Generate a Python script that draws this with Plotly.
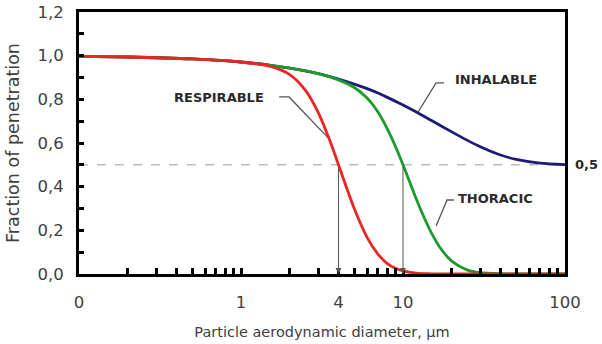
import numpy as np
import plotly.graph_objects as go

# Particle aerodynamic diameter (µm) and fraction of penetration
d_inh = [0.1, 0.2, 0.5, 1, 1.5, 2, 3, 4, 5, 6, 7, 8, 10, 12, 15, 20, 25, 30, 40, 50, 70, 100]
inhalable = [0.997, 0.994, 0.985, 0.971, 0.957, 0.943, 0.918, 0.893, 0.870, 0.849, 0.829,
             0.809, 0.774, 0.743, 0.703, 0.651, 0.612, 0.583, 0.545, 0.525, 0.508, 0.501]

d_tho = [0.1, 0.2, 0.5, 1, 2, 3, 4, 5, 6, 7, 8, 9, 10, 11, 12, 13, 15, 17, 20, 25, 30, 40, 50, 100]
thoracic = [0.997, 0.994, 0.985, 0.971, 0.943, 0.918, 0.889, 0.854, 0.806, 0.742, 0.665, 0.583,
            0.500, 0.421, 0.349, 0.286, 0.187, 0.119, 0.059, 0.018, 0.006, 0.001, 0.0, 0.0]

d_res = [0.1, 0.2, 0.5, 1, 1.5, 2, 2.5, 3, 3.5, 4, 4.5, 5, 6, 7, 8, 9, 10, 12, 15, 20, 50, 100]
respirable = [0.997, 0.994, 0.985, 0.971, 0.952, 0.913, 0.841, 0.739, 0.619, 0.500, 0.392,
              0.300, 0.168, 0.091, 0.048, 0.026, 0.014, 0.004, 0.001, 0.0, 0.0, 0.0]

threshold = 0.5
cut_sizes = [4, 10]  # respirable / thoracic 50 % cut points

x_tickvals = [0.1, 0.2, 0.3, 0.4, 0.5, 0.6, 0.7, 0.8, 0.9, 1, 2, 3, 4, 5, 6, 7, 8, 9,
              10, 20, 30, 40, 50, 60, 70, 80, 90, 100]
x_labels = {0.1: "0", 1: "1", 4: "4", 10: "10", 100: "100"}
y_tickvals = [round(0.1 * i, 1) for i in range(13)]
y_labels = {0.0: "0,0", 0.2: "0,2", 0.4: "0,4", 0.6: "0,6", 0.8: "0,8", 1.0: "1,0", 1.2: "1,2"}

# leader lines: (label end, bend, point on curve)
leaders = {
    "RESPIRABLE": ([1.72, 1.98, 3.5], [0.811, 0.811, 0.619]),
    "INHALABLE": ([17.9, 16.0, 12.4], [0.875, 0.875, 0.742]),
    "THORACIC": ([20.6, 18.7, 16.0], [0.339, 0.339, 0.22]),
}
label_pos = {
    "RESPIRABLE": (1.43, 0.808, "right"),
    "INHALABLE": (20.4, 0.889, "left"),
    "THORACIC": (21.2, 0.344, "left"),
}

FONT = "DejaVu Sans, Verdana, sans-serif"
fig = go.Figure()

# dashed 0.5 line
fig.add_trace(go.Scatter(x=[0.1, 100], y=[threshold, threshold], mode="lines",
                         line=dict(color="#9a9a9a", width=1, dash="dash"),
                         hoverinfo="skip", showlegend=False))

for name, (xs, ys) in leaders.items():
    fig.add_trace(go.Scatter(x=xs, y=ys, mode="lines",
                             line=dict(color="#555555", width=1.3),
                             hoverinfo="skip", showlegend=False))

fig.add_trace(go.Scatter(x=d_inh, y=inhalable, mode="lines", name="Inhalable",
                         line=dict(color="#1c1c78", width=2.8, shape="spline", smoothing=0.8)))
fig.add_trace(go.Scatter(x=d_tho, y=thoracic, mode="lines", name="Thoracic",
                         line=dict(color="#1c9a2c", width=2.8, shape="spline", smoothing=0.8)))
fig.add_trace(go.Scatter(x=d_res, y=respirable, mode="lines", name="Respirable",
                         line=dict(color="#ec2424", width=2.8, shape="spline", smoothing=0.8)))

annotations = []
for c in cut_sizes:
    annotations.append(dict(x=np.log10(c), y=0, ax=np.log10(c), ay=threshold,
                            xref="x", yref="y", axref="x", ayref="y",
                            showarrow=True, arrowhead=2, arrowsize=1.2, arrowwidth=1,
                            arrowcolor="#555555", text=""))
for name, (lx, ly, anchor) in label_pos.items():
    annotations.append(dict(x=np.log10(lx), y=ly, xref="x", yref="y", text="<b>%s</b>" % name,
                            showarrow=False, xanchor=anchor, yanchor="middle",
                            font=dict(family=FONT, size=13, color="#2a2a2a")))
annotations.append(dict(x=1, y=threshold, xref="paper", yref="y", text="<b>0,5</b>",
                        showarrow=False, xanchor="left", yanchor="middle", xshift=8,
                        font=dict(family=FONT, size=13, color="#2a2a2a")))

fig.update_layout(
    width=602, height=344,
    margin=dict(l=79, r=37, t=12, b=70),
    paper_bgcolor="white", plot_bgcolor="white",
    showlegend=False,
    annotations=annotations,
    font=dict(family=FONT, color="#404040"),
    xaxis=dict(type="log", range=[-1, 2], automargin=False,
               tickvals=x_tickvals, ticktext=[x_labels.get(v, "") for v in x_tickvals],
               ticks="inside", ticklen=6, tickwidth=2.8, tickcolor="black",
               showline=True, linewidth=3, linecolor="black", mirror=True,
               showgrid=False, zeroline=False, ticklabelstandoff=11,
               tickfont=dict(family=FONT, size=16.5, color="#404040"),
               title=dict(text="Particle aerodynamic diameter, µm", standoff=17,
                          font=dict(family=FONT, size=14.5, color="#404040"))),
    yaxis=dict(range=[0, 1.2], automargin=False,
               tickvals=y_tickvals, ticktext=[y_labels.get(v, "") for v in y_tickvals],
               ticks="inside", ticklen=5, tickwidth=2.8, tickcolor="black",
               showline=True, linewidth=3, linecolor="black", mirror=True,
               showgrid=False, zeroline=False, ticklabelstandoff=9,
               tickfont=dict(family=FONT, size=16.5, color="#404040"),
               title=dict(text="Fraction of penetration", standoff=14,
                          font=dict(family=FONT, size=17.5, color="#404040"))),
)

fig.write_html("out.html", config={"displayModeBar": False},
               post_script="document.body.style.margin='0';")
